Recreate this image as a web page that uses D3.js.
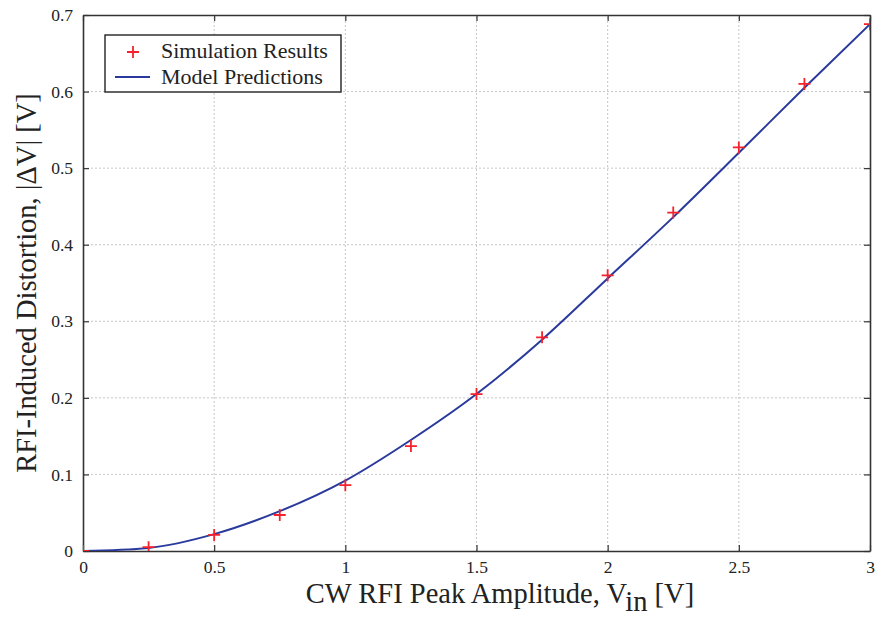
<!DOCTYPE html>
<html>
<head>
<meta charset="utf-8">
<script src="https://cdn.jsdelivr.net/npm/d3@7"></script>
<style>
	body { margin: 0; background: #fff; }
	.grid line { stroke: #b8b8b8; stroke-width: 0.8; stroke-dasharray: 2,2; }
</style>
</head>
<body>
<svg id="chart"></svg>
<script>
// simulation results (markers)
const simX = [0, 0.25, 0.5, 0.75, 1, 1.25, 1.5, 1.75, 2, 2.25, 2.5, 2.75, 3];
const simY = [0, 0.005, 0.021, 0.047, 0.086, 0.137, 0.205, 0.279, 0.360, 0.442, 0.527, 0.610, 0.688];
// model predictions (line)
const modelX = [0, 0.25, 0.5, 0.75, 1, 1.25, 1.5, 1.75, 2, 2.25, 2.5, 2.75, 3];
const modelY = [0, 0.004, 0.022, 0.052, 0.092, 0.145, 0.205, 0.276, 0.356, 0.436, 0.520, 0.605, 0.688];

const xTicks = [0, 0.5, 1, 1.5, 2, 2.5, 3];
const yTicks = [0, 0.1, 0.2, 0.3, 0.4, 0.5, 0.6, 0.7];
const legendLabels = ['Simulation Results', 'Model Predictions'];

const FONT = '"Liberation Serif", "Times New Roman", serif';
const width = 877, height = 623;
const margin = { top: 15, right: 7, bottom: 72, left: 83 };
const svg = d3.select('#chart').attr('width', width).attr('height', height)
	.attr('font-family', FONT);

const x = d3.scaleLinear().domain([0, 3]).range([margin.left, width - margin.right]);
const y = d3.scaleLinear().domain([0, 0.7]).range([height - margin.bottom, margin.top]);

svg.append('defs').append('clipPath').attr('id', 'clip')
	.append('rect')
	.attr('x', x(0)).attr('y', y(0.7))
	.attr('width', x(3) - x(0)).attr('height', y(0) - y(0.7));

// GRID
const grid = svg.append('g').attr('class', 'grid');
grid.selectAll('line.gx').data(xTicks.slice(1, -1)).join('line')
	.attr('class', 'gx')
	.attr('x1', d => x(d)).attr('x2', d => x(d))
	.attr('y1', y(0)).attr('y2', y(0.7));
grid.selectAll('line.gy').data(yTicks.slice(1, -1)).join('line')
	.attr('class', 'gy')
	.attr('x1', x(0)).attr('x2', x(3))
	.attr('y1', d => y(d)).attr('y2', d => y(d));

// AXES (inward ticks on all four sides, matlab style)
const fmt = d => d3.format('~g')(d);
svg.append('g').attr('transform', `translate(0,${y(0)})`)
	.call(d3.axisBottom(x).tickValues(xTicks).tickSizeInner(-6).tickSizeOuter(0).tickPadding(10).tickFormat(fmt));
svg.append('g').attr('transform', `translate(0,${y(0.7)})`)
	.call(d3.axisTop(x).tickValues(xTicks).tickSizeInner(-6).tickSizeOuter(0).tickFormat(''));
svg.append('g').attr('transform', `translate(${x(0)},0)`)
	.call(d3.axisLeft(y).tickValues(yTicks).tickSizeInner(-6).tickSizeOuter(0).tickPadding(10).tickFormat(fmt));
svg.append('g').attr('transform', `translate(${x(3)},0)`)
	.call(d3.axisRight(y).tickValues(yTicks).tickSizeInner(-6).tickSizeOuter(0).tickFormat(''));

svg.selectAll('.domain').attr('stroke', '#333').attr('stroke-width', 1.6);
svg.selectAll('.tick line').attr('stroke', '#333').attr('stroke-width', 1.2);
svg.selectAll('g[font-family]').attr('font-family', FONT).attr('font-size', 17.5);
svg.selectAll('.tick text').attr('fill', '#222');

// DATA
const plot = svg.append('g').attr('clip-path', 'url(#clip)');
const line = d3.line()
	.x(d => x(d[0]))
	.y(d => y(d[1]))
	.curve(d3.curveMonotoneX);
plot.append('path')
	.datum(modelX.map((d, i) => [d, modelY[i]]))
	.attr('d', line)
	.attr('fill', 'none')
	.attr('stroke', '#2a3a9c')
	.attr('stroke-width', 2);

const s = 6;
const plus = (cx, cy) => `M${cx - s},${cy}H${cx + s}M${cx},${cy - s}V${cy + s}`;
plot.selectAll('path.sim').data(simX.map((d, i) => [d, simY[i]])).join('path')
	.attr('class', 'sim')
	.attr('d', d => plus(x(d[0]), y(d[1])))
	.attr('stroke', '#f5222d')
	.attr('stroke-width', 1.8)
	.attr('fill', 'none');

// LEGEND
const lg = svg.append('g').attr('transform', 'translate(105,35)');
lg.append('rect')
	.attr('width', 236).attr('height', 57)
	.attr('fill', '#fff').attr('stroke', '#222').attr('stroke-width', 1.4);
lg.append('path').attr('d', plus(28, 17))
	.attr('stroke', '#f5222d').attr('stroke-width', 1.8);
lg.append('line').attr('x1', 10).attr('x2', 45).attr('y1', 42).attr('y2', 42)
	.attr('stroke', '#2a3a9c').attr('stroke-width', 2);
lg.selectAll('text').data(legendLabels).join('text')
	.attr('x', 56).attr('y', (d, i) => 23 + i * 26)
	.attr('font-family', FONT)
	.attr('font-size', 22).attr('fill', '#222')
	.text(d => d);

// AXIS LABELS
const xl = svg.append('text')
	.attr('x', 500).attr('y', 603)
	.attr('text-anchor', 'middle')
	.attr('font-family', FONT)
	.attr('font-size', 28.5).attr('fill', '#222');
xl.append('tspan').text('CW RFI Peak Amplitude, V');
xl.append('tspan').attr('dy', 8).text('in');
xl.append('tspan').attr('dy', -8).text(' [V]');

svg.append('text')
	.attr('transform', `translate(36,${(y(0) + y(0.7)) / 2})rotate(-90)`)
	.attr('text-anchor', 'middle')
	.attr('font-family', FONT)
	.attr('font-size', 28.5).attr('fill', '#222')
	.text('RFI-Induced Distortion, |ΔV| [V]');
</script>
</body>
</html>
